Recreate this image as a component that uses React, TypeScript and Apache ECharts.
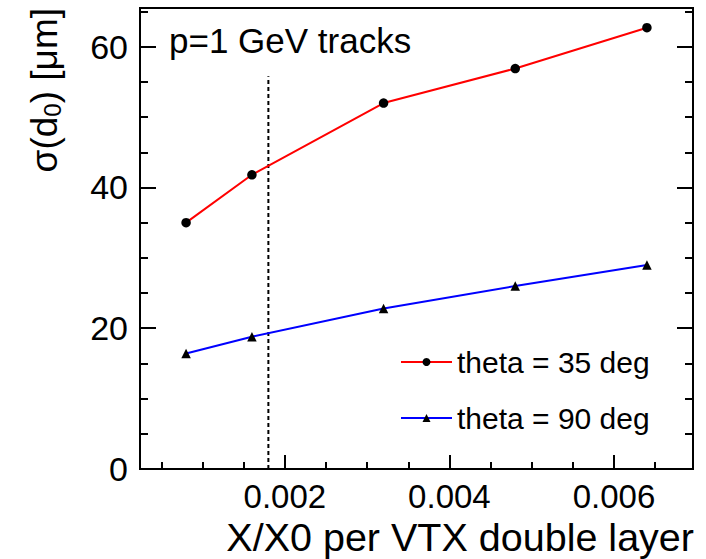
import React, { useEffect, useRef } from "react";
import * as echarts from "echarts";

// ---- data ----
const xValues = [0.0008, 0.0016, 0.0032, 0.0048, 0.0064];
const theta35 = [35.0, 41.8, 52.0, 56.9, 62.7];
const theta90 = [16.4, 18.8, 22.8, 26.0, 29.0];
const seriesNames = ["theta = 35 deg", "theta = 90 deg"];
const refLineX = 0.0018;
const refLineTop = 55.8;
const xRange = [0.00024, 0.00696];
const yRange = [0, 65.5];
const xMajor = 0.002;
const xMinor = 0.0005;
const yMajor = 20;
const yMinor = 5;
const annotation = "p=1 GeV tracks";
const xTitle = "X/X0 per VTX double layer";

const FONT = "'Liberation Sans', Arial, Helvetica, sans-serif";

export default function App() {
  const ref = useRef<HTMLDivElement>(null);
  useEffect(() => {
    document.body.style.margin = "0";
    if (!ref.current) return;
    const chart = echarts.init(ref.current, null, { renderer: "svg" });

    const gridL = 140, gridR = 13, gridT = 8, gridB = 90;

    const xBase = {
      type: "value",
      min: xRange[0],
      max: xRange[1],
      position: "bottom",
      axisLine: { show: false, onZero: false },
      splitLine: { show: false },
    };
    const yBase = {
      type: "value",
      min: yRange[0],
      max: yRange[1],
      axisLine: { show: false, onZero: false },
      splitLine: { show: false },
    };

    const option: any = {
      animation: false,
      backgroundColor: "#fff",
      textStyle: { fontFamily: FONT },
      grid: {
        left: gridL,
        right: gridR,
        top: gridT,
        bottom: gridB,
        show: true,
        borderColor: "#000",
        borderWidth: 2,
        backgroundColor: "transparent",
      },
      xAxis: [
        {
          ...xBase,
          minInterval: xMajor,
          maxInterval: xMajor,
          axisTick: { show: true, inside: true, length: 14, lineStyle: { color: "#000", width: 2 } },
          axisLabel: {
            show: true,
            showMinLabel: false,
            showMaxLabel: false,
            margin: 14,
            fontSize: 33,
            lineHeight: 26,
            color: "#000",
            fontFamily: FONT,
            formatter: (v: number) => String(Number(v.toPrecision(6))),
          },
        },
        {
          ...xBase,
          minInterval: xMinor,
          maxInterval: xMinor,
          axisTick: { show: true, inside: true, length: 7, lineStyle: { color: "#000", width: 2 } },
          axisLabel: { show: false },
        },
      ],
      yAxis: [
        {
          ...yBase,
          position: "left",
          interval: yMajor,
          axisTick: { show: true, inside: true, length: 16, lineStyle: { color: "#000", width: 2 } },
          axisLabel: {
            show: true,
            showMaxLabel: false,
            margin: 12,
            fontSize: 34,
            color: "#000",
            fontFamily: FONT,
          },
        },
        {
          ...yBase,
          position: "left",
          interval: yMinor,
          axisTick: { show: true, inside: true, length: 8, lineStyle: { color: "#000", width: 2 } },
          axisLabel: { show: false },
        },
        {
          ...yBase,
          position: "right",
          interval: yMajor,
          axisTick: { show: true, inside: true, length: 16, lineStyle: { color: "#000", width: 2 } },
          axisLabel: { show: false },
        },
        {
          ...yBase,
          position: "right",
          interval: yMinor,
          axisTick: { show: true, inside: true, length: 8, lineStyle: { color: "#000", width: 2 } },
          axisLabel: { show: false },
        },
      ],
      legend: {
        orient: "vertical",
        left: 395,
        top: 342,
        itemWidth: 51,
        itemHeight: 10,
        itemGap: 26,
        data: seriesNames,
        textStyle: { fontSize: 30, color: "#000", fontFamily: FONT },
      },
      series: [
        {
          name: seriesNames[0],
          type: "line",
          xAxisIndex: 0,
          yAxisIndex: 0,
          data: xValues.map((x, i) => [x, theta35[i]]),
          symbol: "circle",
          symbolSize: 9.5,
          lineStyle: { color: "#ff0000", width: 2 },
          itemStyle: { color: "#000" },
          z: 3,
        },
        {
          name: seriesNames[1],
          type: "line",
          xAxisIndex: 0,
          yAxisIndex: 0,
          data: xValues.map((x, i) => [x, theta90[i]]),
          symbol: "triangle",
          symbolSize: 9.5,
          lineStyle: { color: "#0000ff", width: 2 },
          itemStyle: { color: "#000" },
          z: 3,
        },
        {
          name: "ref",
          type: "line",
          xAxisIndex: 0,
          yAxisIndex: 0,
          data: [
            [refLineX, yRange[0]],
            [refLineX, refLineTop],
          ],
          symbol: "none",
          silent: true,
          lineStyle: { color: "#000", width: 2, type: [4, 3] },
          z: 2,
        },
      ],
      graphic: [
        {
          type: "text",
          left: 169,
          top: 23,
          style: {
            text: annotation,
            fontSize: 35,
            fill: "#000",
            fontFamily: FONT,
          },
        },
        {
          type: "text",
          x: 694,
          y: 557,
          style: {
            text: xTitle,
            fontSize: 39.5,
            lineHeight: 40,
            fill: "#000",
            fontFamily: FONT,
            align: "right",
            verticalAlign: "bottom",
          },
        },
        {
          type: "text",
          x: 26,
          y: 8,
          rotation: Math.PI / 2,
          style: {
            text: "{m|σ(d}{s|0}{m|) [μm]}",
            align: "right",
            verticalAlign: "top",
            fill: "#000",
            fontFamily: FONT,
            rich: {
              m: { fontSize: 37, lineHeight: 38, verticalAlign: "top", fill: "#000", fontFamily: FONT },
              s: {
                fontSize: 24,
                lineHeight: 24,
                padding: [22, 0, 0, 0],
                verticalAlign: "bottom",
                fill: "#000",
                fontFamily: FONT,
              },
            },
          },
        },
      ],
    };

    chart.setOption(option);
    return () => chart.dispose();
  }, []);

  return <div ref={ref} style={{ width: 706, height: 559 }} />;
}
